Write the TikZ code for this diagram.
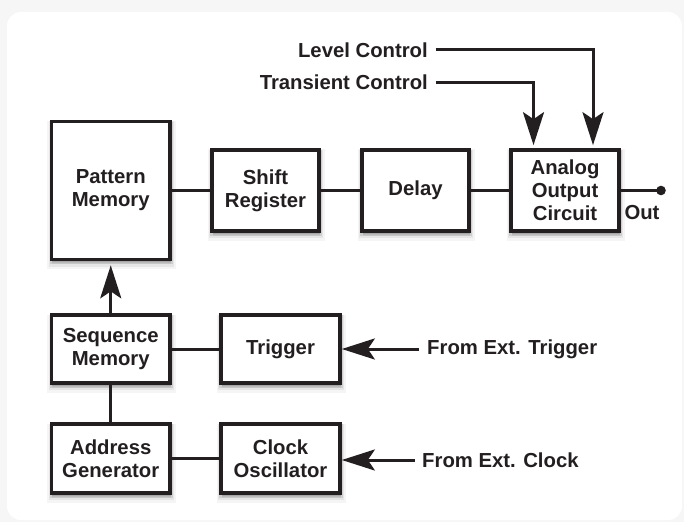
\documentclass[tikz,border=0pt]{standalone}
\usepackage{fontspec}
\setmainfont{Liberation Sans}
\usetikzlibrary{arrows.meta,shadows}
\definecolor{ink}{HTML}{231F20}
\begin{document}
\begin{tikzpicture}[x=1bp,y=-1bp,
  txt/.style={font=\bfseries\fontsize{20.3bp}{22.8bp}\selectfont, text=ink},
  shad/.style={
    general shadow={fill=black, draw=black, line width=10bp, opacity=0.04, shadow xshift=0.5bp, shadow yshift=-4.5bp},
    general shadow={fill=black, draw=black, line width=7bp, opacity=0.06, shadow xshift=0.5bp, shadow yshift=-3.5bp},
    general shadow={fill=black, draw=black, line width=4.5bp, opacity=0.1, shadow xshift=0.5bp, shadow yshift=-2.5bp}},
  box/.style={txt, shad, draw=ink, line width=3.7bp, fill=white, inner sep=0pt, align=center},
  lbl/.style={txt, inner sep=0pt},
  wire/.style={draw=ink, line width=3bp},
  arr/.style={wire, -{Stealth[length=33bp, width=21bp, inset=7bp]}}
]
\useasboundingbox (0,0) rectangle (684,522);
\fill[gray!7] (0,0) rectangle (684,522);
\fill[white, rounded corners=14bp] (7,12) rectangle (682,520);

% boxes
\node[box, minimum width=118.5bp, minimum height=138bp] (PM) at (110.75,190.5) {Pattern\\Memory};
\node[box, minimum width=107bp, minimum height=81bp] (SR) at (265.5,190.5) {Shift\\Register};
\node[box, minimum width=107bp, minimum height=81bp] (DL) at (415.5,190.5) {Delay};
\node[box, minimum width=108bp, minimum height=81bp] (AO) at (565,190.5) {Analog\\Output\\Circuit};
\node[box, minimum width=118.5bp, minimum height=68bp] (SM) at (110.75,349) {Sequence\\Memory};
\node[box, minimum width=119bp, minimum height=68bp] (TR) at (280.5,349) {Trigger};
\node[box, minimum width=118.5bp, minimum height=69bp] (AG) at (110.75,458.5) {Address\\Generator};
\node[box, minimum width=119bp, minimum height=69bp] (CO) at (280.5,458.5) {Clock\\Oscillator};

% labels
\node[lbl, anchor=east] (LC) at (428,50) {Level Control};
\node[lbl, anchor=east] (TC) at (428,82.5) {Transient Control};
\node[lbl, anchor=west] (FT) at (427,349) {From Ext. Trigger};
\node[lbl, anchor=west] (FC) at (422,460) {From Ext. Clock};
\node[lbl] (OUTL) at (642,213) {Out};
\coordinate (OUT) at (661,190.5);

% connectors
\draw[wire] (PM.east) -- (SR.west);
\draw[wire] (SR.east) -- (DL.west);
\draw[wire] (DL.east) -- (AO.west);
\draw[wire] (AO.east) -- (OUT);
\fill[ink] (OUT) circle (4.8bp);
\draw[wire] (SM.east) -- (TR.west);
\draw[wire] (AG.east) -- (CO.west);
\draw[wire] (SM.south) -- (AG.north);
\draw[arr, shorten >=4bp] (SM.north) -- (PM.south);
\draw[arr, shorten >=3bp] ([xshift=7.5bp]LC.east) -| (593,0 |- AO.north);
\draw[arr, shorten >=3bp] ([xshift=7.5bp]TC.east) -| (533.5,0 |- AO.north);
\draw[arr] ([xshift=-8bp]FT.west) -- (FT.west -| TR.east);
\draw[arr] ([xshift=-7.5bp]FC.west) -- (FC.west -| CO.east);
\end{tikzpicture}
\end{document}
